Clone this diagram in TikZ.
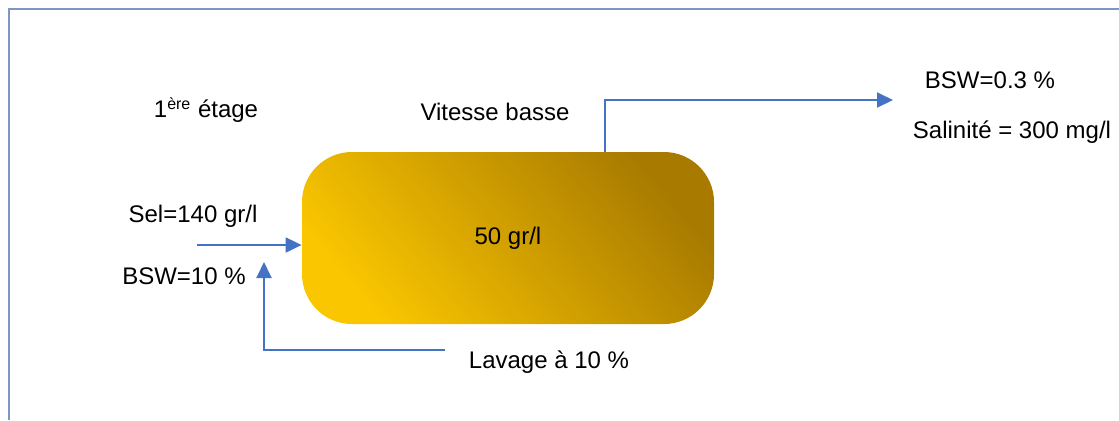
\documentclass[tikz,border=0pt]{standalone}
\usepackage{fontspec}
\setmainfont{Liberation Sans}
\usetikzlibrary{positioning, arrows.meta}

\definecolor{flow}{RGB}{68,114,196}
\definecolor{frame}{RGB}{125,150,200}
\definecolor{golddark}{RGB}{168,122,0}
\definecolor{goldlight}{RGB}{250,198,0}

\tikzset{
    label/.style={font=\fontsize{12}{14}\selectfont, inner sep=0pt},
    stream/.style={draw=flow, line width=1pt, -{Triangle[length=8pt, width=7.5pt]}},
    tank/.style={shade, top color=golddark, bottom color=goldlight, shading angle=-50,
        rounded corners=25pt, minimum width=206pt, minimum height=86pt,
        font=\fontsize{12}{14}\selectfont}
}

\begin{document}
\begin{tikzpicture}[x=0.5pt, y=-0.5pt]
    \useasboundingbox (0,0) rectangle (1119,420);
    \draw[frame, line width=0.6pt] (9,420) -- (9,9) -- (1119,9);

    % separator
    \node[tank] (sep) at (508,238) {50 gr/l};

    \node[label] (stage) at (206,110) {1\textsuperscript{ère} étage};
    \node[label] (speed) at (495,112) {Vitesse basse};
    \node[label] (salt)  at (193,216) {Sel=140 gr/l};
    \node[label] (bswin) at (184,276) {BSW=10 \%};
    \node[label] (wash)  at (549,362) {Lavage à 10 \%};
    \node[label] (bswout) at (990,80) {BSW=0.3 \%};
    \node[label] (salout) at (1012,132) {Salinité = 300 mg/l};

    \coordinate (feed) at (197,245);
    \coordinate (washin) at (445,350);
    \coordinate (washup) at (264,262);
    \coordinate (outtop) at (605,100);
    \coordinate (outend) at (893,100);

    % streams
    \draw[stream] (feed) -- (feed -| sep.west);
    \draw[stream] (washin) -| (washup);
    \draw[stream] (outtop |- sep.north) -- (outtop) -- (outend);
\end{tikzpicture}
\end{document}
